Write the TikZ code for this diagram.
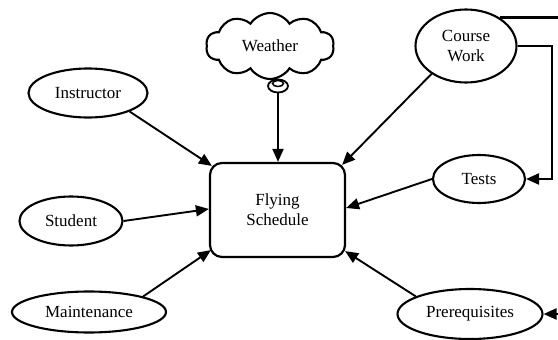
\documentclass[tikz,border=0pt]{standalone}
\usepackage{fontspec}
\setmainfont{Liberation Serif}
\usetikzlibrary{arrows.meta,shapes.geometric,shapes.symbols}
\begin{document}
\begin{tikzpicture}[x=1pt,y=-1pt,
  txt/.style={font=\fontsize{17}{20}\selectfont, align=center},
  oval/.style={ellipse, draw, line width=2.1pt, inner sep=0pt, txt},
  tip/.style={-{Triangle[length=13pt,width=11pt]}},
  link/.style={line width=1.9pt, tip},
  rail/.style={line width=2.3pt},
]
\useasboundingbox (0,0) rectangle (558,340);
\fill[white] (0,0) rectangle (558,340);

% central activity
\node[draw, rounded corners=12pt, line width=2.2pt, minimum width=135pt,
      minimum height=94pt, txt] (box) at (277.5,210) {Flying\\Schedule};

% influencing factors
\node[oval, minimum width=119pt, minimum height=49pt] (instr) at (88,93) {Instructor};
\node[oval, minimum width=103pt, minimum height=49pt] (stud) at (71,221) {Student};
\node[oval, minimum width=154pt, minimum height=41pt] (maint) at (89,312) {Maintenance};
\node[oval, minimum width=145pt, minimum height=50pt] (prereq) at (470,314) {Prerequisites};
\node[oval, minimum width=92pt, minimum height=48pt] (tests) at (479,179) {Tests};
\node[oval, minimum width=101pt, minimum height=73pt] (cw) at (466,46) {Course\\Work};

% weather cloud with its thought-bubble tail
\node[cloud, draw, line width=2.1pt, cloud puffs=10, cloud puff arc=115, aspect=2,
      minimum width=128pt, minimum height=66pt, inner sep=0pt, txt] (wx) at (270,46) {Weather};
\node[ellipse, draw, fill=white, line width=1.8pt, minimum width=20pt, minimum height=13pt,
      inner sep=0pt] (bub) at (278,86) {};
\node[ellipse, draw, line width=1.5pt, minimum width=11pt, minimum height=6pt,
      inner sep=0pt] (bubin) at (278,83.5) {};

% arrows into the schedule
\draw[link] (instr.-24) -- ([xshift=3pt,yshift=-4pt]box.north west);
\draw[link] (bub.south) -- (bub.south |- box.north);
\draw[link] (cw.-141) -- ([xshift=-4pt,yshift=-3pt]box.north east);
\draw[link] (tests.west) -- ([yshift=2pt]box.east);
\draw[link] (stud.east) -- ([yshift=1pt]box.west);
\draw[link] (maint.16) -- ([xshift=2pt,yshift=8pt]box.south west);
\draw[link] (prereq.162) -- ([xshift=-1pt,yshift=7pt]box.south east);

% lines running off to the right
\coordinate (edgeR) at (566,0);
\coordinate (railx) at (552,0);
\draw[rail] (cw.40) -- (cw.40 -| edgeR);
\draw[rail, tip] (cw.east) -- (cw.east -| railx) |- (tests.east);
\draw[rail, tip] (prereq.east -| edgeR) -- (prereq.east);
\end{tikzpicture}
\end{document}
